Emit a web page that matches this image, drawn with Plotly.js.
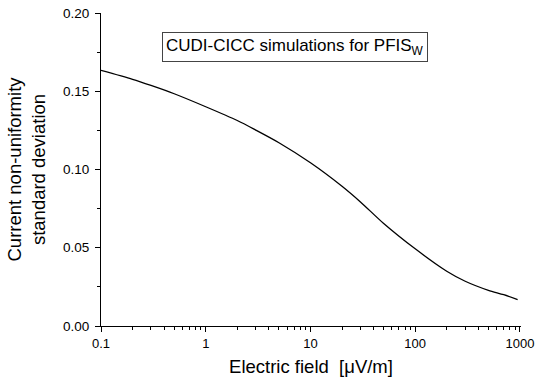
<!DOCTYPE html>
<html>
<head>
<meta charset="utf-8">
<script src="https://cdn.plot.ly/plotly-3.0.1.min.js"></script>
<style>html,body{margin:0;padding:0;background:#fff;}#chart{width:535px;height:379px;}</style>
</head>
<body>
<div id="chart"></div>
<script>
const fieldValues = [0.1, 0.2, 0.3, 0.5, 1, 2, 3, 5, 10, 20, 30, 50, 100, 200, 300, 500, 700, 950];
const deviationValues = [0.1633, 0.1576, 0.1537, 0.1484, 0.1401, 0.1313, 0.1252, 0.1171, 0.1043, 0.0893, 0.0793, 0.0655, 0.0493, 0.0350, 0.0286, 0.0228, 0.0200, 0.0168];
const xTickVals = [0.1, 1, 10, 100, 1000];
const xTickText = ["0.1", "1", "10", "100", "1000"];
const yTickVals = [0, 0.05, 0.10, 0.15, 0.20];
const yTickText = ["0.00", "0.05", "0.10", "0.15", "0.20"];

const font = "Liberation Sans, Arial, sans-serif";

Plotly.newPlot("chart", [{
  x: fieldValues,
  y: deviationValues,
  type: "scatter",
  mode: "lines",
  line: {color: "#000", width: 1.3, shape: "spline", smoothing: 0.8},
  showlegend: false
}], {
  width: 535, height: 379,
  margin: {l: 101, r: 14, t: 13, b: 53},
  paper_bgcolor: "#fff", plot_bgcolor: "#fff",
  font: {family: font, color: "#000"},
  xaxis: {
    type: "log", range: [-1, 3.01],
    tickvals: xTickVals, ticktext: xTickText,
    ticks: "outside", ticklen: 5, tickwidth: 1, tickcolor: "#000",
    showline: true, linecolor: "#000", linewidth: 1,
    showgrid: false, zeroline: false,
    tickfont: {size: 13, family: font},
    minor: {ticks: "outside", ticklen: 3, tickcolor: "#000", dtick: "D1", showgrid: false},
    title: {text: "Electric field  [μV/m]", font: {size: 18.5, family: font}, standoff: 10}
  },
  yaxis: {
    range: [0, 0.2],
    tickvals: yTickVals, ticktext: yTickText,
    ticks: "outside", ticklen: 5, tickwidth: 1, tickcolor: "#000",
    showline: true, linecolor: "#000", linewidth: 1,
    showgrid: false, zeroline: false,
    tickfont: {size: 13.5, family: font},
    ticklabelstandoff: 3,
    minor: {ticks: "outside", ticklen: 3, tickcolor: "#000", dtick: 0.025, showgrid: false},
    title: {text: "Current non-uniformity<br>standard deviation", font: {size: 18.5, family: font}, standoff: 12}
  },
  annotations: [{
    xref: "paper", yref: "paper", x: 0.462, y: 0.89,
    xanchor: "center", yanchor: "middle",
    text: "CUDI-CICC simulations for PFIS<sub>W</sub>",
    showarrow: false,
    font: {size: 17, family: font, color: "#000"},
    bordercolor: "#444", borderwidth: 1, borderpad: 3, bgcolor: "#fff"
  }]
}, {displayModeBar: false, staticPlot: true});
</script>
</body>
</html>
